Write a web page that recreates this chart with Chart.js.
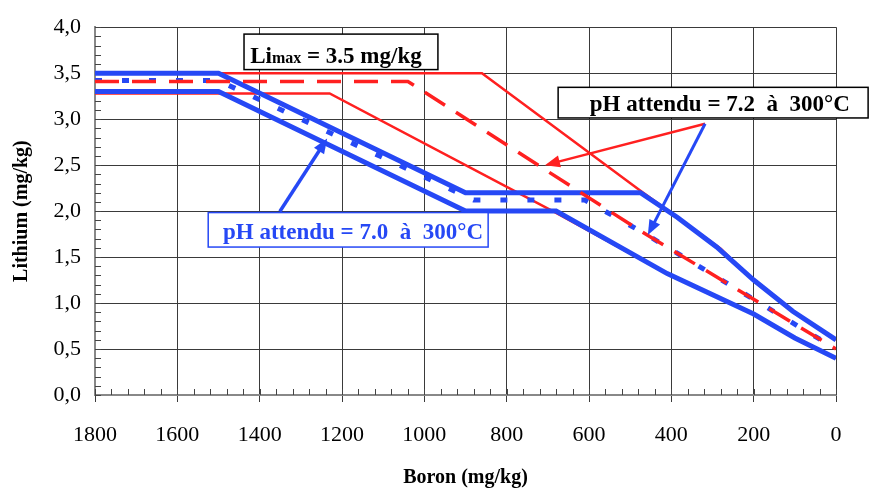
<!DOCTYPE html>
<html>
<head>
<meta charset="utf-8">
<script src="https://cdn.jsdelivr.net/npm/chart.js@4"></script>
<style>
  html, body { margin: 0; padding: 0; background: #fff; }
</style>
</head>
<body>
<canvas id="chart" width="869" height="493"></canvas>
<script>
// Boron (x) / Lithium (y) points
const redUpperB = [1800, 860, 475, 385, 280, 200, 105, 0];
const redUpperLi = [3.5, 3.5, 2.22, 1.93, 1.59, 1.24, 0.91, 0.6];
const redLowerB = [1800, 1230, 680, 410, 200, 100, 0];
const redLowerLi = [3.28, 3.28, 1.98, 1.32, 0.88, 0.62, 0.4];
const redMidB = [1800, 1040, 470, 0];
const redMidLi = [3.41, 3.41, 1.77, 0.5];

const blueUpperB = [1800, 1500, 900, 475, 385, 290, 200, 105, 0];
const blueUpperLi = [3.5, 3.5, 2.2, 2.2, 1.93, 1.61, 1.25, 0.91, 0.6];
const blueLowerB = [1800, 1500, 900, 680, 410, 200, 100, 0];
const blueLowerLi = [3.3, 3.3, 2.0, 2.0, 1.32, 0.88, 0.62, 0.4];
const blueMidB = [1800, 1500, 880, 610, 470, 0];
const blueMidLi = [3.42, 3.42, 2.12, 2.12, 1.77, 0.5];

const xTicks = [1800, 1600, 1400, 1200, 1000, 800, 600, 400, 200, 0];
const yTicks = ['0,0', '0,5', '1,0', '1,5', '2,0', '2,5', '3,0', '3,5', '4,0'];

const RED = '#ff2020';
const BLUE = '#2648f5';
const SERIF = '"Liberation Serif", "Times New Roman", serif';

function pts(bs, ls) {
  return bs.map((b, i) => ({ x: b, y: ls[i] }));
}

function line(bs, ls, color, width, dash, order) {
  return {
    data: pts(bs, ls),
    borderColor: color,
    borderWidth: width,
    borderDash: dash,
    pointRadius: 0,
    tension: 0,
    fill: false,
    order: order
  };
}

// minor ticks (inside the plot)
const minorTicks = {
  id: 'minorTicks',
  beforeDatasetsDraw(chart) {
    const { ctx, scales: { x, y }, chartArea: a } = chart;
    ctx.save();
    ctx.strokeStyle = '#444';
    ctx.lineWidth = 1;
    ctx.beginPath();
    for (let v = 0; v <= 4.0001; v += 0.1) {
      const p = Math.round(y.getPixelForValue(v)) + 0.5;
      ctx.moveTo(a.left, p); ctx.lineTo(a.left + 6, p);
    }
    for (let b = 0; b <= 1800; b += 40) {
      const p = Math.round(x.getPixelForValue(b)) + 0.5;
      ctx.moveTo(p, a.bottom); ctx.lineTo(p, a.bottom - 6);
    }
    ctx.stroke();
    ctx.restore();
  }
};

function arrow(ctx, x1, y1, x2, y2, color, w) {
  const a = Math.atan2(y2 - y1, x2 - x1), head = 15, half = 6;
  const c = Math.cos(a), s = Math.sin(a);
  ctx.strokeStyle = color; ctx.fillStyle = color; ctx.lineWidth = w;
  ctx.beginPath();
  ctx.moveTo(x1, y1);
  ctx.lineTo(x2 - head * 0.8 * c, y2 - head * 0.8 * s);
  ctx.stroke();
  ctx.beginPath();
  ctx.moveTo(x2, y2);
  ctx.lineTo(x2 - head * c + half * s, y2 - head * s - half * c);
  ctx.lineTo(x2 - head * c - half * s, y2 - head * s + half * c);
  ctx.closePath();
  ctx.fill();
}

function box(ctx, l, t, r, b, color, w) {
  ctx.fillStyle = '#fff';
  ctx.fillRect(l, t, r - l, b - t);
  ctx.strokeStyle = color; ctx.lineWidth = w;
  ctx.strokeRect(l, t, r - l, b - t);
}

// text boxes and arrows, placed in data units
const notes = {
  id: 'notes',
  afterDatasetsDraw(chart) {
    const { ctx, scales: { x, y } } = chart;
    const px = v => x.getPixelForValue(v), py = v => y.getPixelForValue(v);
    ctx.save();

    arrow(ctx, px(318), py(2.95), px(707), py(2.50), RED, 2.5);
    arrow(ctx, px(318), py(2.95), px(457), py(1.74), BLUE, 3);
    arrow(ctx, px(1351), py(1.995), px(1236), py(2.79), BLUE, 3.5);

    ctx.textBaseline = 'alphabetic';
    ctx.textAlign = 'left';

    // Li max box
    box(ctx, px(1438), py(3.925), px(967), py(3.539), '#000', 1.5);
    ctx.fillStyle = '#000';
    ctx.font = 'bold 23px ' + SERIF;
    let tx = px(1423), ty = py(3.614);
    ctx.fillText('Li', tx, ty);
    tx += ctx.measureText('Li').width;
    ctx.font = 'bold 16px ' + SERIF;
    ctx.fillText('max', tx, ty);
    tx += ctx.measureText('max').width;
    ctx.font = 'bold 23px ' + SERIF;
    ctx.fillText(' = 3.5 mg/kg', tx, ty);

    // pH 7.2 box
    box(ctx, px(675), py(3.346), px(-78), py(3.013), '#000', 1.5);
    ctx.fillStyle = '#000';
    ctx.fillText('pH attendu = 7.2  à  300°C', px(598), py(3.089));

    // pH 7.0 box
    box(ctx, px(1525), py(1.984), px(845), py(1.609), BLUE, 1.5);
    ctx.fillStyle = BLUE;
    ctx.fillText('pH attendu = 7.0  à  300°C', px(1489), py(1.694));

    ctx.restore();
  }
};

new Chart(document.getElementById('chart'), {
  type: 'line',
  data: {
    datasets: [
      line(redMidB, redMidLi, RED, 3.5, [24, 13], 0),
      line(blueMidB, blueMidLi, BLUE, 5, [7, 20], 1),
      line(blueUpperB, blueUpperLi, BLUE, 5, [], 2),
      line(blueLowerB, blueLowerLi, BLUE, 5, [], 3),
      line(redUpperB, redUpperLi, RED, 2.5, [], 4),
      line(redLowerB, redLowerLi, RED, 2.5, [], 5)
    ]
  },
  options: {
    responsive: false,
    animation: false,
    layout: { padding: { left: 0, right: 33, top: 22, bottom: 0 } },
    plugins: { legend: { display: false }, tooltip: { enabled: false } },
    scales: {
      x: {
        type: 'linear',
        reverse: true,
        min: 0,
        max: 1800,
        afterBuildTicks: s => { s.ticks = xTicks.map(v => ({ value: v })); },
        afterFit: s => { s.height = 98; },
        ticks: {
          color: '#000',
          font: { family: SERIF, size: 22 },
          padding: 20,
          maxRotation: 0,
          callback: v => String(v)
        },
        grid: { color: '#3a3a3a', lineWidth: 1, tickLength: 7, drawTicks: true },
        border: { color: '#888', width: 2 },
        title: {
          display: true,
          text: 'Boron (mg/kg)',
          color: '#000',
          font: { family: SERIF, size: 20, weight: 'bold' },
          padding: { top: 0, bottom: 3 }
        }
      },
      y: {
        min: 0,
        max: 4,
        afterBuildTicks: s => { s.ticks = yTicks.map((t, i) => ({ value: i * 0.5 })); },
        afterFit: s => { s.width = 95; },
        ticks: {
          color: '#000',
          font: { family: SERIF, size: 22 },
          padding: 14,
          callback: (v, i) => yTicks[i]
        },
        grid: { color: '#3a3a3a', lineWidth: 1, drawTicks: false },
        border: { color: '#888', width: 2 },
        title: {
          display: true,
          text: 'Lithium (mg/kg)',
          color: '#000',
          font: { family: SERIF, size: 20, weight: 'bold' },
          padding: { top: 10, bottom: 0 }
        }
      }
    }
  },
  plugins: [minorTicks, notes]
});
</script>
</body>
</html>
